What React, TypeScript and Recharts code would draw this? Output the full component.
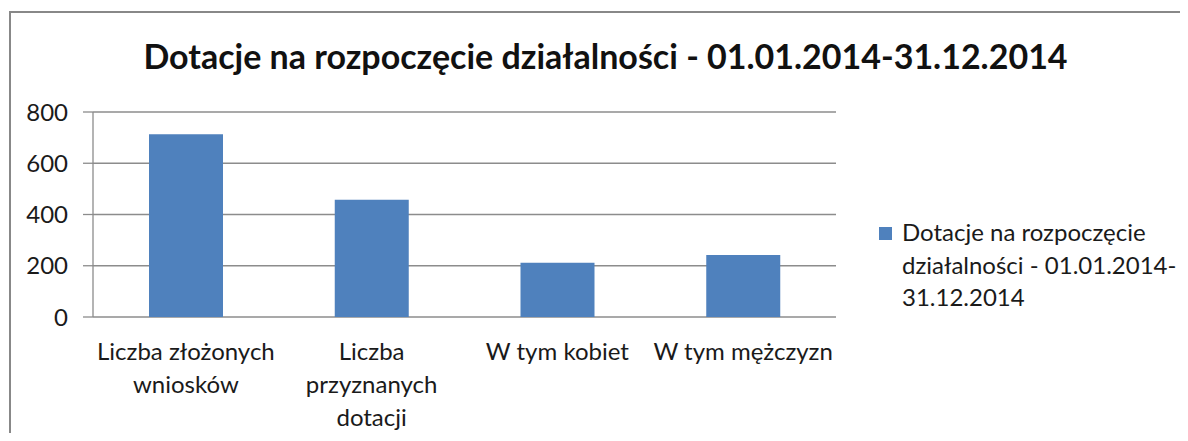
import { Bar, BarChart, CartesianGrid, Legend, XAxis, YAxis } from 'recharts'

const categories = ['Liczba złożonych wniosków', 'Liczba przyznanych dotacji', 'W tym kobiet', 'W tym mężczyzn']
// how the category labels wrap under the axis
const categoryLines = [['Liczba złożonych', 'wniosków'], ['Liczba', 'przyznanych', 'dotacji'], ['W tym kobiet'], ['W tym mężczyzn']]
const values = [713, 458, 212, 242]
const yTicks = [0, 200, 400, 600, 800]
const boundaryTicks = [0, 1, 2, 3, 4]
const seriesName = 'Dotacje na rozpoczęcie działalności - 01.01.2014-31.12.2014'
const legendLines = ['Dotacje na rozpoczęcie', 'działalności - 01.01.2014-', '31.12.2014']
const title = 'Dotacje na rozpoczęcie działalności - 01.01.2014-31.12.2014'

const data = categories.map((name, i) => ({ name, value: values[i] }))

const FONT = 'Lato, "Open Sans", sans-serif'
const AXIS = '#8c8c8c'
const BAR = '#4f81bd'

function CategoryTick(props: any) {
  const { x, y, payload } = props
  const i = categories.indexOf(payload.value)
  const lines = categoryLines[i] ?? [payload.value]
  return (
    <g>
      {lines.map((line, k) => (
        <text key={k} x={x} y={y + 41 + k * 33} textAnchor="middle" fontSize={24} fontFamily={FONT} fill="#1a1a1a">
          {line}
        </text>
      ))}
    </g>
  )
}

function LegendBox() {
  return (
    <div style={{ display: 'flex', alignItems: 'flex-start', fontFamily: FONT, fontSize: 24, color: '#1a1a1a', lineHeight: '32.5px' }}>
      <div style={{ width: 13, height: 13, background: BAR, marginTop: 11, marginRight: 10, flex: 'none' }} />
      <div title={seriesName}>
        {legendLines.map((l, k) => (
          <div key={k} style={{ whiteSpace: 'nowrap' }}>{l}</div>
        ))}
      </div>
    </div>
  )
}

export default function App() {
  return (
    <div style={{ position: 'relative', margin: -8, width: 1188, height: 441, overflow: 'hidden', background: '#fff' }}>
      {/* chart frame: only the top and left edges are in view */}
      <svg width={1188} height={441} style={{ position: 'absolute', left: 0, top: 0 }}>
        <path d="M10 460 V12 H1220" fill="none" stroke="#888" strokeWidth={2} />
      </svg>
      <div
        style={{
          position: 'absolute',
          left: 0,
          top: 35,
          width: 1188,
          paddingLeft: 23,
          boxSizing: 'border-box',
          textAlign: 'center',
          fontFamily: FONT,
          fontWeight: 700,
          fontSize: 34,
          color: '#111',
          whiteSpace: 'nowrap',
        }}
      >
        {title}
      </div>
      <div style={{ position: 'absolute', left: 0, top: 0 }}>
        <BarChart width={1188} height={441} data={data} margin={{ top: 112, right: 352, bottom: 0, left: 20 }}>
          <CartesianGrid vertical={false} stroke={AXIS} strokeWidth={1.3} />
          <XAxis
            xAxisId="edges"
            type="number"
            domain={[0, 4]}
            ticks={boundaryTicks}
            height={0}
            axisLine={{ stroke: AXIS, strokeWidth: 1.3 }}
            tickLine={{ stroke: AXIS, strokeWidth: 1.3 }}
            tickSize={9}
            tickFormatter={() => ''}
          />
          <XAxis
            dataKey="name"
            height={124}
            axisLine={false}
            tickLine={false}
            tickSize={0}
            interval={0}
            tick={<CategoryTick />}
          />
          <YAxis
            width={73}
            domain={[0, 800]}
            ticks={yTicks}
            axisLine={{ stroke: AXIS, strokeWidth: 1.3 }}
            tickLine={{ stroke: AXIS, strokeWidth: 1.3 }}
            tickSize={10}
            tickMargin={15}
            tick={{ fontSize: 24, fontFamily: FONT, fill: '#1a1a1a' }}
          />
          <Legend
            layout="horizontal"
            verticalAlign="middle"
            align="center"
            content={<LegendBox />}
            wrapperStyle={{ position: 'absolute', left: 879, top: 216, width: 300 }}
          />
          <Bar dataKey="value" name={seriesName} fill={BAR} barSize={74} isAnimationActive={false} />
        </BarChart>
      </div>
    </div>
  )
}
